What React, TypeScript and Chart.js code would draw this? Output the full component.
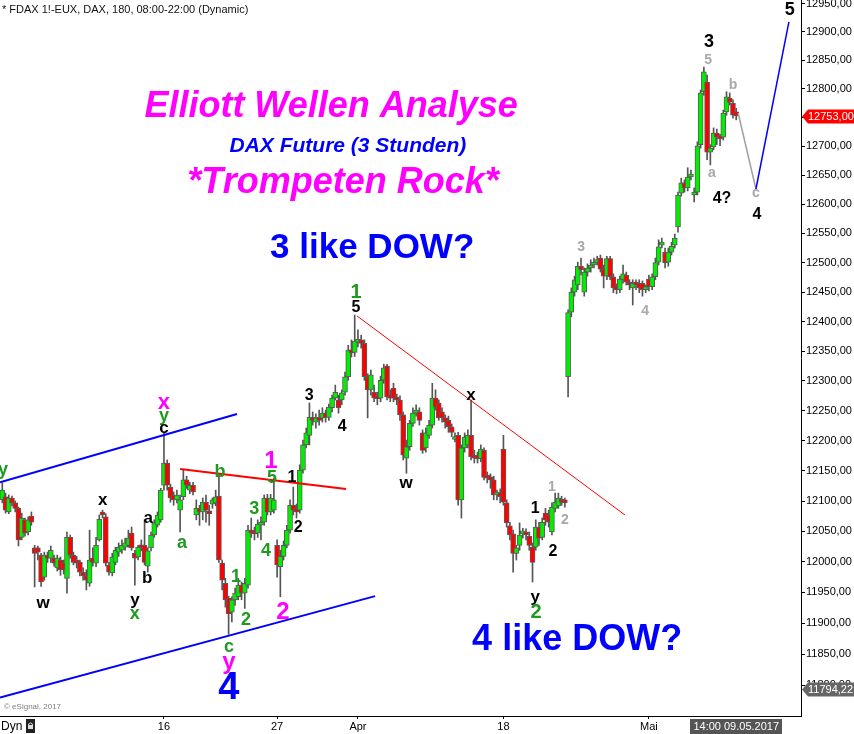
import React, { useEffect, useRef } from "react";
import { Chart, registerables } from "chart.js";

Chart.register(...registerables);

// ---------- data (FDAX 180-minute bars, 02.03.2017 – 09.05.2017 14:00) ----------
const opens = [
  12102, 12107, 12082, 12105, 12097, 12088, 12040, 12069, 12049, 12075,
  12023, 12023, 12011, 11975, 12011, 12006, 12006, 11990, 12003, 11998,
  11973, 12040, 12011, 12003, 11999, 11983, 11977, 11965, 12006, 11998,
  12036, 12080, 12074, 11995, 11982, 11999, 12016, 12019, 12024, 12027,
  12047, 12014, 12008, 12027, 12027, 11993, 12023, 12044, 12060, 12069,
  12126, 12163, 12123, 12110, 12102, 12085, 12107, 12135, 12118, 12126,
  12077, 12088, 12082, 12098, 12084, 12095, 12097, 12108, 11998, 11965,
  11941, 11918, 11938, 11943, 11962, 11949, 11962, 12052, 12050, 12047,
  12060, 12065, 12105, 12082, 12085, 12027, 11992, 12009, 12027, 12052,
  12093, 12088, 12085, 12151, 12193, 12209, 12239, 12231, 12239, 12238,
  12246, 12239, 12255, 12271, 12268, 12268, 12281, 12307, 12352, 12348,
  12365, 12369, 12363, 12307, 12285, 12281, 12273, 12271, 12301, 12325,
  12273, 12288, 12271, 12268, 12243, 12171, 12190, 12229, 12246, 12248,
  12213, 12188, 12209, 12226, 12271, 12263, 12248, 12238, 12234, 12223,
  12202, 12209, 12102, 12188, 12193, 12209, 12176, 12173, 12170, 12184,
  12139, 12138, 12135, 12110, 12113, 12186, 12097, 12059, 12046, 12014,
  12027, 12046, 12049, 12042, 12024, 12024, 12057, 12040, 12080, 12077,
  12049, 12088, 12092, 12103, 12098, 12307, 12416, 12450, 12462, 12494,
  12450, 12484, 12491, 12496, 12500, 12508, 12489, 12477, 12507, 12476,
  12459, 12454, 12471, 12479, 12465, 12457, 12465, 12465, 12465, 12454,
  12472, 12459, 12476, 12501, 12530, 12518, 12501, 12518, 12530, 12561,
  12619, 12637, 12628, 12647, 12616, 12621, 12703, 12795, 12812, 12690,
  12699, 12723, 12716, 12716, 12760, 12784, 12775, 12760,
];
const highs = [
  12130, 12113, 12110, 12108, 12100, 12090, 12080, 12072, 12074, 12082,
  12027, 12026, 12014, 12016, 12016, 12026, 12011, 12011, 12008, 12003,
  12049, 12044, 12016, 12009, 12003, 11990, 11987, 12052, 12023, 12040,
  12077, 12085, 12079, 11999, 12014, 12024, 12031, 12036, 12039, 12052,
  12057, 12019, 12027, 12036, 12069, 12023, 12049, 12069, 12082, 12121,
  12213, 12168, 12128, 12115, 12118, 12110, 12151, 12141, 12131, 12131,
  12102, 12093, 12105, 12110, 12093, 12105, 12118, 12146, 12003, 11973,
  11944, 11943, 11957, 11973, 11967, 11973, 12060, 12072, 12057, 12069,
  12074, 12110, 12111, 12111, 12138, 12036, 12019, 12034, 12060, 12102,
  12123, 12095, 12160, 12201, 12221, 12263, 12248, 12245, 12251, 12255,
  12251, 12261, 12276, 12293, 12276, 12285, 12315, 12360, 12369, 12411,
  12386, 12377, 12369, 12312, 12318, 12293, 12281, 12308, 12328, 12328,
  12285, 12296, 12278, 12275, 12248, 12201, 12234, 12255, 12260, 12255,
  12218, 12221, 12234, 12296, 12285, 12268, 12255, 12243, 12241, 12228,
  12213, 12214, 12193, 12213, 12218, 12268, 12184, 12181, 12193, 12188,
  12148, 12145, 12141, 12118, 12120, 12209, 12102, 12065, 12052, 12027,
  12064, 12055, 12054, 12049, 12031, 12069, 12065, 12072, 12088, 12085,
  12097, 12113, 12113, 12108, 12105, 12420, 12457, 12477, 12501, 12508,
  12491, 12498, 12505, 12508, 12511, 12513, 12496, 12511, 12511, 12481,
  12464, 12477, 12496, 12484, 12471, 12471, 12471, 12471, 12469, 12462,
  12479, 12481, 12508, 12539, 12542, 12525, 12525, 12535, 12549, 12621,
  12645, 12642, 12663, 12659, 12628, 12708, 12798, 12838, 12824, 12703,
  12732, 12730, 12721, 12763, 12795, 12793, 12781, 12766,
];
const lows = [
  12097, 12080, 12079, 12092, 12082, 12026, 12036, 12042, 12044, 12060,
  11959, 12003, 11960, 11970, 11999, 11999, 11993, 11985, 11978, 11980,
  11949, 12006, 11995, 11990, 11977, 11970, 11954, 11960, 11993, 11992,
  12034, 12072, 11993, 11978, 11977, 11995, 12009, 12014, 12019, 12024,
  12019, 11962, 12003, 12018, 11995, 11983, 12018, 12040, 12057, 12065,
  12118, 12118, 12098, 12093, 12097, 12049, 12102, 12121, 12112, 12110,
  12069, 12060, 12069, 12065, 12060, 12088, 12092, 11999, 11954, 11926,
  11882, 11902, 11929, 11938, 11938, 11924, 11957, 12040, 12036, 12040,
  12036, 12060, 12077, 12077, 12080, 11975, 11943, 12003, 12023, 12047,
  12077, 12072, 12080, 12146, 12188, 12193, 12226, 12221, 12226, 12231,
  12231, 12234, 12248, 12268, 12246, 12260, 12276, 12301, 12340, 12341,
  12357, 12355, 12301, 12238, 12276, 12265, 12260, 12265, 12296, 12268,
  12265, 12265, 12260, 12234, 12168, 12146, 12184, 12224, 12241, 12226,
  12179, 12181, 12204, 12221, 12251, 12234, 12231, 12221, 12214, 12207,
  12198, 12093, 12072, 12181, 12188, 12168, 12163, 12163, 12165, 12135,
  12130, 12121, 12102, 12102, 12097, 12093, 12057, 12036, 11983, 12003,
  12019, 12039, 12036, 12019, 11967, 12019, 12027, 12036, 12060, 12057,
  12044, 12082, 12088, 12093, 12090, 12273, 12408, 12443, 12454, 12479,
  12443, 12477, 12484, 12491, 12496, 12484, 12457, 12471, 12471, 12449,
  12447, 12449, 12465, 12462, 12454, 12428, 12454, 12449, 12443, 12449,
  12452, 12454, 12471, 12496, 12525, 12491, 12494, 12513, 12525, 12552,
  12614, 12621, 12623, 12642, 12604, 12616, 12697, 12789, 12677, 12668,
  12694, 12703, 12701, 12711, 12754, 12772, 12749, 12746,
];
const closes = [
  12118, 12085, 12105, 12097, 12088, 12036, 12072, 12047, 12069, 12065,
  12014, 12016, 11967, 12011, 12006, 12019, 11998, 12006, 11987, 11987,
  12040, 12011, 11999, 11998, 11983, 11977, 11970, 12003, 11999, 12027,
  12070, 12077, 11998, 11983, 12008, 12019, 12024, 12027, 12031, 12039,
  12023, 12006, 12024, 12023, 11999, 12018, 12044, 12064, 12077, 12118,
  12163, 12126, 12105, 12102, 12110, 12102, 12135, 12126, 12126, 12115,
  12088, 12082, 12098, 12085, 12079, 12102, 12107, 12003, 11970, 11938,
  11915, 11938, 11949, 11962, 11949, 11965, 12052, 12047, 12046, 12062,
  12065, 12105, 12082, 12105, 12102, 11995, 12009, 12027, 12052, 12093,
  12085, 12082, 12151, 12193, 12213, 12239, 12234, 12238, 12234, 12246,
  12239, 12256, 12271, 12281, 12255, 12280, 12307, 12352, 12347, 12367,
  12369, 12363, 12307, 12285, 12310, 12271, 12270, 12301, 12322, 12273,
  12271, 12271, 12268, 12243, 12176, 12190, 12229, 12246, 12250, 12234,
  12184, 12213, 12226, 12271, 12256, 12238, 12238, 12231, 12223, 12214,
  12206, 12102, 12188, 12206, 12209, 12173, 12171, 12170, 12186, 12139,
  12138, 12135, 12110, 12113, 12107, 12098, 12064, 12044, 12014, 12023,
  12044, 12049, 12044, 12027, 11999, 12057, 12039, 12065, 12069, 12065,
  12090, 12098, 12105, 12098, 12097, 12415, 12450, 12471, 12494, 12488,
  12484, 12491, 12496, 12500, 12505, 12489, 12477, 12507, 12476, 12457,
  12454, 12472, 12481, 12467, 12462, 12465, 12462, 12457, 12454, 12457,
  12459, 12476, 12500, 12527, 12534, 12500, 12518, 12528, 12542, 12616,
  12637, 12628, 12647, 12652, 12621, 12701, 12793, 12830, 12690, 12697,
  12723, 12716, 12713, 12758, 12786, 12777, 12754, 12753,
];

// first bar of the labelled days (bar index) and their labels
const dayTickIndex = [50, 85, 110, 155, 200];
const dayTickLabels = ["16", "27", "Apr", "18", "Mai"];

const priceTicks = [
  11800, 11850, 11900, 11950, 12000, 12050, 12100, 12150, 12200, 12250, 12300, 12350,
  12400, 12450, 12500, 12550, 12600, 12650, 12700, 12750, 12800, 12850, 12900, 12950,
];

const lastPrice = 12753;
const lastPriceText = "12753,00";
const lowMarker = 11794.22;
const lowMarkerText = "11794,22";
const lastBarText = "14:00 09.05.2017";

// ---------- styles / layout ----------
const FONT = "'Liberation Sans', Arial, Helvetica, sans-serif";
const UP = "#00ee00";
const DOWN = "#ff0000";
const EDGE = "#5a5a5a";
const G = "#1f9a1f";
const K = "#000000";
const M = "#ff00ff";
const B = "#0000ff";
const S = "#a8a8a8";

const X_MIN = -0.711;
const X_MAX = 247.04;
const Y_MIN = 11750.2;
const Y_MAX = 12956.2;

const trendLines = [
  { a: [-0.71, 12131], b: [72.6, 12244.5], color: "#0000ff", w: 2 },
  { a: [-0.71, 11779.8], b: [115.3, 11944], color: "#0000ff", w: 2 },
  { a: [55.0, 12152.9], b: [106.3, 12119.8], color: "#ff0000", w: 2 },
  { a: [109.7, 12409.5], b: [192.6, 12076.9], color: "#ff0000", w: 1 },
  { a: [227.6, 12758], b: [233.1, 12626.3], color: "#a0a0a0", w: 1.5 },
  { a: [233.1, 12626.3], b: [243.3, 12917.4], color: "#0000ff", w: 1.5 },
];

const titles = [
  { t: "Elliott Wellen Analyse", i: 101.7, p: 12768, c: M, f: "italic bold 36px" },
  { t: "DAX Future (3 Stunden)", i: 106.9, p: 12700, c: B, f: "italic bold 21px" },
  { t: "*Trompeten Rock*", i: 105.4, p: 12637, c: M, f: "italic bold 36px" },
  { t: "3 like DOW?", i: 114.4, p: 12525, c: B, f: "bold 35px" },
  { t: "4 like DOW?", i: 177.8, p: 11872, c: B, f: "bold 36px" },
];

const waveLabels = [
  { t: "y", i: 0.2, p: 12151, c: G, s: 18 },
  { t: "w", i: 12.6, p: 11932, c: K, s: 17 },
  { t: "x", i: 31.1, p: 12102, c: K, s: 17 },
  { t: "a", i: 45.1, p: 12072, c: K, s: 17 },
  { t: "b", i: 44.8, p: 11973, c: K, s: 17 },
  { t: "y", i: 41.0, p: 11937, c: K, s: 17 },
  { t: "x", i: 41.0, p: 11915, c: G, s: 18 },
  { t: "x", i: 50.0, p: 12263, c: M, s: 22 },
  { t: "y", i: 50.0, p: 12241, c: G, s: 18 },
  { t: "c", i: 50.0, p: 12221, c: K, s: 17 },
  { t: "a", i: 55.6, p: 12031, c: G, s: 18 },
  { t: "b", i: 67.3, p: 12148, c: G, s: 18 },
  { t: "1", i: 72.3, p: 11975, c: G, s: 18 },
  { t: "2", i: 75.4, p: 11905, c: G, s: 18 },
  { t: "3", i: 77.9, p: 12087, c: G, s: 18 },
  { t: "4", i: 81.6, p: 12018, c: G, s: 18 },
  { t: "5", i: 83.4, p: 12138, c: G, s: 18 },
  { t: "1", i: 83.1, p: 12165, c: M, s: 24 },
  { t: "2", i: 86.8, p: 11918, c: M, s: 24 },
  { t: "c", i: 70.1, p: 11861, c: G, s: 18 },
  { t: "y", i: 70.1, p: 11837, c: M, s: 24 },
  { t: "4", i: 70.1, p: 11794, c: B, s: 38 },
  { t: "1", i: 89.6, p: 12138, c: K, s: 16 },
  { t: "2", i: 91.5, p: 12057, c: K, s: 16 },
  { t: "3", i: 94.9, p: 12276, c: K, s: 16 },
  { t: "4", i: 105.1, p: 12223, c: K, s: 16 },
  { t: "5", i: 109.4, p: 12423, c: K, s: 16 },
  { t: "1", i: 109.4, p: 12450, c: G, s: 20 },
  { t: "w", i: 124.9, p: 12130, c: K, s: 17 },
  { t: "x", i: 145.0, p: 12276, c: K, s: 17 },
  { t: "1", i: 164.8, p: 12087, c: K, s: 16 },
  { t: "2", i: 170.3, p: 12016, c: K, s: 16 },
  { t: "1", i: 170.0, p: 12123, c: S, s: 14 },
  { t: "2", i: 174.0, p: 12069, c: S, s: 14 },
  { t: "y", i: 164.8, p: 11942, c: K, s: 17 },
  { t: "2", i: 165.1, p: 11918, c: G, s: 20 },
  { t: "3", i: 179.0, p: 12527, c: S, s: 14 },
  { t: "4", i: 198.8, p: 12418, c: S, s: 14 },
  { t: "3", i: 218.6, p: 12882, c: K, s: 18 },
  { t: "5", i: 218.3, p: 12850, c: S, s: 14 },
  { t: "b", i: 226.0, p: 12807, c: S, s: 14 },
  { t: "a", i: 219.5, p: 12654, c: S, s: 14 },
  { t: "4?", i: 222.6, p: 12609, c: K, s: 16 },
  { t: "c", i: 233.1, p: 12620, c: S, s: 14 },
  { t: "4", i: 233.4, p: 12583, c: K, s: 16 },
  { t: "5", i: 243.6, p: 12938, c: K, s: 18 },
];

const overlay = {
  id: "overlay",
  afterDraw(chart: any) {
    const ctx = chart.ctx as CanvasRenderingContext2D;
    const xs = chart.scales.x;
    const ys = chart.scales.y;
    const X = (i: number) => xs.getPixelForValue(i);
    const Y = (p: number) => ys.getPixelForValue(p);
    const area = chart.chartArea;
    const W = chart.width;

    ctx.save();
    ctx.beginPath();
    ctx.rect(area.left, area.top, area.right - area.left, area.bottom - area.top);
    ctx.clip();

    trendLines.forEach((l) => {
      ctx.strokeStyle = l.color;
      ctx.lineWidth = l.w;
      ctx.beginPath();
      ctx.moveTo(X(l.a[0]), Y(l.a[1]));
      ctx.lineTo(X(l.b[0]), Y(l.b[1]));
      ctx.stroke();
    });

    ctx.textAlign = "center";
    ctx.textBaseline = "middle";
    titles.forEach((t) => {
      ctx.font = `${t.f} ${FONT}`;
      ctx.fillStyle = t.c;
      ctx.fillText(t.t, X(t.i), Y(t.p));
    });
    waveLabels.forEach((l) => {
      ctx.font = `bold ${l.s}px ${FONT}`;
      ctx.fillStyle = l.c;
      ctx.fillText(l.t, X(l.i), Y(l.p));
    });

    ctx.textAlign = "left";
    ctx.font = `11px ${FONT}`;
    ctx.fillStyle = "#111";
    ctx.fillText("* FDAX 1!-EUX, DAX, 180, 08:00-22:00 (Dynamic)", 2, 10);
    ctx.font = `8px ${FONT}`;
    ctx.fillStyle = "#808080";
    ctx.fillText("\u00A9 eSignal, 2017", 4, 707);
    ctx.restore();

    const tag = (price: number, text: string, bg: string) => {
      const y = Math.round(Y(price)) + 0.5;
      const x0 = area.right + 1;
      ctx.save();
      ctx.fillStyle = bg;
      ctx.beginPath();
      ctx.moveTo(x0, y);
      ctx.lineTo(x0 + 6, y - 7);
      ctx.lineTo(W, y - 7);
      ctx.lineTo(W, y + 7);
      ctx.lineTo(x0 + 6, y + 7);
      ctx.closePath();
      ctx.fill();
      ctx.fillStyle = "#ffffff";
      ctx.font = `11px ${FONT}`;
      ctx.textAlign = "left";
      ctx.textBaseline = "middle";
      ctx.fillText(text, x0 + 6, y + 0.5);
      ctx.restore();
    };
    tag(lastPrice, lastPriceText, "#ff0000");
    tag(lowMarker, lowMarkerText, "#666666");

    ctx.save();
    ctx.textBaseline = "middle";
    ctx.textAlign = "left";
    ctx.font = `12px 'Liberation Sans Narrow', ${FONT}`;
    ctx.fillStyle = "#000";
    ctx.fillText("Dyn", 1, 727);
    ctx.fillStyle = "#222";
    ctx.fillRect(26, 719, 9, 14);
    ctx.strokeStyle = "#ddd";
    ctx.lineWidth = 1;
    ctx.beginPath();
    ctx.arc(30.5, 725, 2, Math.PI, 0);
    ctx.stroke();
    ctx.fillStyle = "#ddd";
    ctx.fillRect(28, 725, 5, 4);

    const cx = X(opens.length - 1);
    ctx.font = `11px ${FONT}`;
    const tw = ctx.measureText(lastBarText).width + 6;
    ctx.fillStyle = "#555555";
    ctx.fillRect(Math.round(cx - tw / 2), 719, Math.round(tw), 15);
    ctx.fillStyle = "#ffffff";
    ctx.textAlign = "center";
    ctx.fillText(lastBarText, cx, 727);
    ctx.restore();
  },
};

export default function App() {
  const ref = useRef<HTMLCanvasElement | null>(null);

  useEffect(() => {
    document.body.style.margin = "0";
    const canvas = ref.current;
    if (!canvas) return;

    const bodyData = opens.map((o, i) => ({ x: i, y: [o, closes[i]] }));
    const wickData = lows.map((l, i) => ({ x: i, y: [l, highs[i]] }));
    const bodyColors = opens.map((o, i) => (closes[i] >= o ? UP : DOWN));

    const zeroPad = (s: any) => {
      s.paddingTop = 0;
      s.paddingBottom = 0;
      s.paddingLeft = 0;
      s.paddingRight = 0;
    };

    const chart = new Chart(canvas, {
      type: "bar",
      data: {
        datasets: [
          {
            data: bodyData as any,
            backgroundColor: bodyColors,
            borderColor: EDGE,
            borderWidth: 1,
            borderSkipped: false,
            barThickness: 5,
            grouped: false,
            minBarLength: 3,
          } as any,
          {
            data: wickData as any,
            backgroundColor: "#555555",
            borderWidth: 0,
            barThickness: 1,
            grouped: false,
          } as any,
        ],
      },
      options: {
        responsive: false,
        animation: false,
        devicePixelRatio: 1,
        layout: { padding: 0 },
        plugins: {
          legend: { display: false },
          tooltip: { enabled: false },
        },
        scales: {
          x: {
            type: "linear",
            min: X_MIN,
            max: X_MAX,
            offset: false,
            bounds: "data",
            grid: {
              display: true,
              drawOnChartArea: false,
              drawTicks: true,
              tickLength: 3,
              color: "#000",
              offset: false,
            },
            border: { display: true, color: "#000", width: 1 },
            ticks: {
              autoSkip: false,
              maxRotation: 0,
              minRotation: 0,
              padding: 1,
              color: "#000",
              font: { family: FONT, size: 11 },
              callback: (v: any) => {
                const k = dayTickIndex.indexOf(Number(v));
                return k >= 0 ? dayTickLabels[k] : "";
              },
            },
            afterBuildTicks: (s: any) => {
              s.ticks = dayTickIndex.map((v) => ({ value: v }));
            },
            afterFit: (s: any) => {
              s.height = 18;
              zeroPad(s);
            },
          } as any,
          y: {
            type: "logarithmic",
            position: "right",
            min: Y_MIN,
            max: Y_MAX,
            bounds: "data",
            beginAtZero: false,
            grid: {
              display: true,
              drawOnChartArea: false,
              drawTicks: true,
              tickLength: 4,
              color: "#000",
            },
            border: { display: true, color: "#000", width: 1 },
            ticks: {
              autoSkip: false,
              padding: 1,
              color: "#000",
              font: { family: FONT, size: 11 },
              callback: (v: any) => Number(v).toFixed(2).replace(".", ","),
            },
            afterBuildTicks: (s: any) => {
              s.ticks = priceTicks.map((v) => ({ value: v }));
            },
            afterFit: (s: any) => {
              s.width = 53;
              zeroPad(s);
            },
          } as any,
        },
      },
      plugins: [overlay],
    });

    return () => chart.destroy();
  }, []);

  return (
    <div style={{ width: 854, height: 734, background: "#fff" }}>
      <canvas ref={ref} width={854} height={734} style={{ display: "block" }} />
    </div>
  );
}
